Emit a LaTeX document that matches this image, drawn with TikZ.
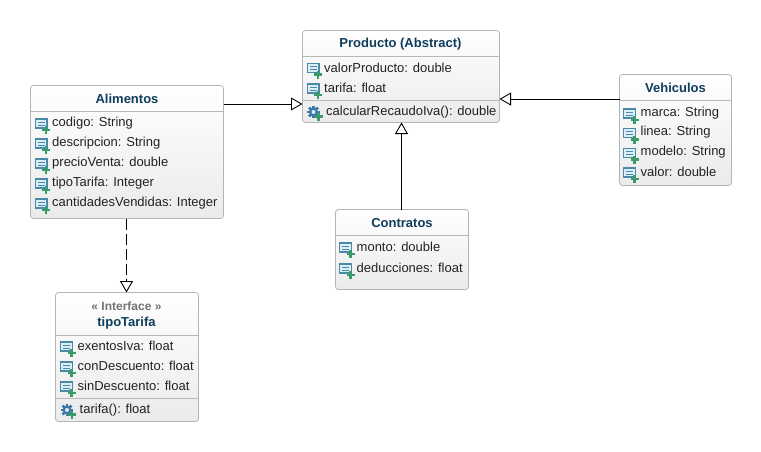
\documentclass[tikz,border=0pt]{standalone}
\usepackage{fontspec}
\setmainfont{Liberation Sans}
\usetikzlibrary{arrows.meta,shadings}
\definecolor{titlec}{HTML}{0F3D5C}
\definecolor{itemc}{HTML}{222222}
\definecolor{edgec}{HTML}{B4B4B4}
\definecolor{iconb}{HTML}{4A8AA8}
\definecolor{iconf}{HTML}{DCEEF5}
\definecolor{plusc}{HTML}{3A9A6A}
\definecolor{gearc}{HTML}{3A78A8}
\tikzset{
  umlbox/.style={draw=edgec,line width=.8pt,rounded corners=3pt,top color=white,bottom color=black!8,inner sep=0pt,outer sep=0pt},
  sepline/.style={draw=black!28,line width=.8pt},
  titletext/.style={font=\fontsize{13}{15}\selectfont\bfseries,text=titlec,inner sep=0pt,anchor=center},
  stereo/.style={font=\fontsize{12}{14}\selectfont\bfseries,text=black!55,inner sep=0pt,anchor=center},
  itemtext/.style={font=\fontsize{13}{15}\selectfont,text=itemc,inner sep=0pt,anchor=west},
  gen/.style={draw=black,line width=.9pt,-{Triangle[open,length=11.5pt,width=13pt,fill=white]}},
  plus/.pic={\fill[plusc] (-1.3,-4) rectangle (1.3,4); \fill[plusc] (-4,-1.3) rectangle (4,1.3);},
  attricon/.pic={
    \draw[iconb,line width=1.1pt,fill=iconf] (-7.2,-5) rectangle (4.5,4);
    \draw[iconb,line width=.9pt] (-4.7,-2) -- (2,-2) (-4.7,1.2) -- (2,1.2);
    \pic at (3.5,6) {plus};
  },
  methicon/.pic={
    \foreach \a in {0,45,...,315}{\fill[gearc,rotate=\a] (-1.3,3.5) rectangle (1.3,6.2);}
    \fill[gearc] (0,0) circle (4.4pt);
    \fill[iconf] (0,0) circle (2pt);
    \pic at (5,4.5) {plus};
  }
}
\newcommand{\attrrow}[4]{\pic at (#2+15,#3+1) {attricon}; \node[itemtext] (#1) at (#2+24.5,#3) {#4};}
\newcommand{\methrow}[4]{\pic at (#2+14,#3) {methicon}; \node[itemtext] (#1) at (#2+26.5,#3) {#4};}
\newcommand{\umlclass}[5]{\node[umlbox,minimum width=#4*1pt-#2*1pt,minimum height=#5*1pt-#3*1pt] (#1) at ({(#2+#4)/2},{(#3+#5)/2}) {};}
\begin{document}
\begin{tikzpicture}[x=1pt,y=-1pt]
\useasboundingbox (0,0) rectangle (761,451);
\fill[white] (0,0) rectangle (761,451);
% boxes
\umlclass{prod}{302.5}{30.5}{499.5}{122.5}
\umlclass{alim}{30.5}{85.5}{223.5}{218.5}
\umlclass{vehi}{619.5}{74.5}{731.5}{185.5}
\umlclass{cont}{335.5}{209.5}{468.5}{289.5}
\umlclass{tipo}{55.5}{292.5}{198.5}{421.5}
% separators
\draw[sepline] (prod.west |- 0,56.5) -- (prod.east |- 0,56.5);
\draw[sepline] (prod.west |- 0,100.5) -- (prod.east |- 0,100.5);
\draw[sepline] (alim.west |- 0,111.5) -- (alim.east |- 0,111.5);
\draw[sepline] (vehi.west |- 0,100.5) -- (vehi.east |- 0,100.5);
\draw[sepline] (cont.west |- 0,235.5) -- (cont.east |- 0,235.5);
\draw[sepline] (tipo.west |- 0,335.5) -- (tipo.east |- 0,335.5);
\draw[sepline] (tipo.west |- 0,398.5) -- (tipo.east |- 0,398.5);
% titles
\node[titletext] (prodT) at (400.5,44) {Producto (Abstract)};
\node[titletext] (alimT) at (127,99) {Alimentos};
\node[titletext] (vehiT) at (675.5,88) {Vehiculos};
\node[titletext] (contT) at (402,223) {Contratos};
\node[stereo] (tipoS) at (126.5,306) {« Interface »};
\node[titletext] (tipoT) at (126.5,323) {tipoTarifa};
% Producto
\attrrow{p1}{299.5}{67.5}{valorProducto: double}
\attrrow{p2}{299.5}{88}{tarifa: float}
\methrow{p3}{299.5}{112}{calcularRecaudoIva(): double}
% Alimentos
\attrrow{a1}{27.5}{123}{codigo: String}
\attrrow{a2}{27.5}{143}{descripcion: String}
\attrrow{a3}{27.5}{163}{precioVenta: double}
\attrrow{a4}{27.5}{183}{tipoTarifa: Integer}
\attrrow{a5}{27.5}{203}{cantidadesVendidas: Integer}
% Vehiculos
\attrrow{v1}{616}{113}{marca: String}
\attrrow{v2}{616}{132.5}{linea: String}
\attrrow{v3}{616}{152.5}{modelo: String}
\attrrow{v4}{616}{172}{valor: double}
% Contratos
\attrrow{c1}{332}{247}{monto: double}
\attrrow{c2}{332}{268}{deducciones: float}
% tipoTarifa
\attrrow{t1}{53}{346}{exentosIva: float}
\attrrow{t2}{53}{366}{conDescuento: float}
\attrrow{t3}{53}{386}{sinDescuento: float}
\methrow{t4}{53}{410}{tarifa(): float}
% connectors
\draw[gen] ([yshift=48pt]alim.east) -- ([yshift=-27.5pt]prod.west);
\draw[gen] ([yshift=31pt]vehi.west) -- ([yshift=-22.5pt]prod.east);
\draw[gen] ([xshift=-.5pt]cont.north) -- ([xshift=-.5pt]cont.north |- prod.south);
\draw[gen,dashed,dash pattern=on 11pt off 4pt] ([xshift=-.5pt]alim.south) -- ([xshift=-.5pt]alim.south |- tipo.north);
\end{tikzpicture}
\end{document}
